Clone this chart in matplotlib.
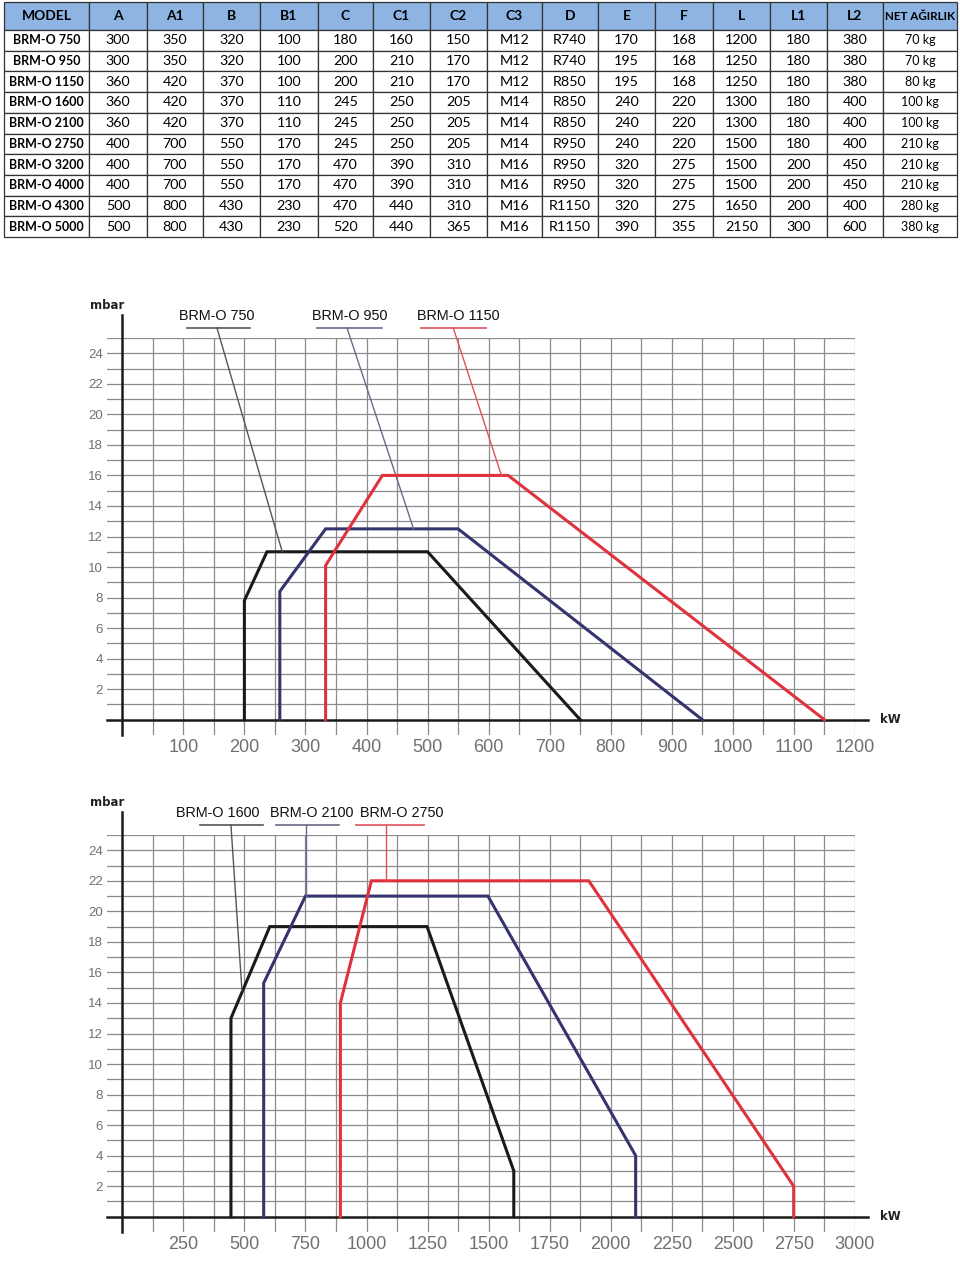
import matplotlib
matplotlib.use("Agg")
import matplotlib.pyplot as plt

# ===== Table data =====
columns = ["MODEL", "A", "A1", "B", "B1", "C", "C1", "C2", "C3", "D", "E", "F", "L", "L1", "L2", "NET AĞIRLIK"]
models = ["BRM-O 750", "BRM-O 950", "BRM-O 1150", "BRM-O 1600", "BRM-O 2100",
          "BRM-O 2750", "BRM-O 3200", "BRM-O 4000", "BRM-O 4300", "BRM-O 5000"]
dim_a = [300, 300, 360, 360, 360, 400, 400, 400, 500, 500]
dim_a1 = [350, 350, 420, 420, 420, 700, 700, 700, 800, 800]
dim_b = [320, 320, 370, 370, 370, 550, 550, 550, 430, 430]
dim_b1 = [100, 100, 100, 110, 110, 170, 170, 170, 230, 230]
dim_c = [180, 200, 200, 245, 245, 245, 470, 470, 470, 520]
dim_c1 = [160, 210, 210, 250, 250, 250, 390, 390, 440, 440]
dim_c2 = [150, 170, 170, 205, 205, 205, 310, 310, 310, 365]
dim_c3 = ["M12", "M12", "M12", "M14", "M14", "M14", "M16", "M16", "M16", "M16"]
dim_d = ["R740", "R740", "R850", "R850", "R850", "R950", "R950", "R950", "R1150", "R1150"]
dim_e = [170, 195, 195, 240, 240, 240, 320, 320, 320, 390]
dim_f = [168, 168, 168, 220, 220, 220, 275, 275, 275, 355]
dim_l = [1200, 1250, 1250, 1300, 1300, 1500, 1500, 1500, 1650, 2150]
dim_l1 = [180, 180, 180, 180, 180, 180, 200, 200, 200, 300]
dim_l2 = [380, 380, 380, 400, 400, 400, 450, 450, 400, 600]
weight_kg = [70, 70, 80, 100, 100, 210, 210, 210, 280, 380]

# ===== Burner working ranges (kW vs mbar) =====
kw_750 = [200, 200, 237, 500, 750]
mbar_750 = [0, 7.8, 11, 11, 0]
kw_950 = [258, 258, 333, 550, 950]
mbar_950 = [0, 8.4, 12.5, 12.5, 0]
kw_1150 = [333, 333, 347, 426, 632, 1150]
mbar_1150 = [0, 10.1, 11, 16, 16, 0]

kw_1600 = [445, 445, 604, 1248, 1603, 1603]
mbar_1600 = [0, 13, 19, 19, 3, 0]
kw_2100 = [579, 579, 750, 1497, 2102, 2102]
mbar_2100 = [0, 15.3, 21, 21, 4, 0]
kw_2750 = [893, 893, 1020, 1910, 2749, 2749]
mbar_2750 = [0, 14, 22, 22, 2, 0]

fig = plt.figure(figsize=(9.6, 12.61), dpi=100)
W, H = 960, 1261


def px_axes(left, top, right, bottom):
    return fig.add_axes([left / W, 1 - bottom / H, (right - left) / W, (bottom - top) / H])


# ===== Table =====
tax = px_axes(4, 2, 957, 237)
tax.axis("off")
rows = []
for i in range(len(models)):
    rows.append([models[i], dim_a[i], dim_a1[i], dim_b[i], dim_b1[i], dim_c[i], dim_c1[i],
                 dim_c2[i], dim_c3[i], dim_d[i], dim_e[i], dim_f[i], dim_l[i], dim_l1[i],
                 dim_l2[i], f"{weight_kg[i]} kg"])
rows = [[str(v) for v in r] for r in rows]
bounds = [4, 89, 147, 203, 260, 318, 373, 430, 487, 542, 598, 655, 713, 770, 827, 883, 957]
col_w = [(bounds[i + 1] - bounds[i]) / (bounds[-1] - bounds[0]) for i in range(len(bounds) - 1)]
table = tax.table(cellText=rows, colLabels=columns, colWidths=col_w, cellLoc="center",
                  bbox=[0, 0, 1, 1])
table.auto_set_font_size(False)
for (r, c), cell in table.get_celld().items():
    cell.set_edgecolor("#333333")
    cell.set_linewidth(0.9)
    cell.set_height(28 if r == 0 else 20.7)
    txt = cell.get_text()
    txt.set_fontfamily("Lato")
    txt.set_fontsize(10.3)
    if r == 0:
        cell.set_facecolor("#8EB4E3")
        txt.set_fontweight("bold")
        txt.set_fontsize(10)
        if c == len(columns) - 1:
            txt.set_fontsize(8.4)
    elif c == 0:
        txt.set_fontweight("bold")
        txt.set_fontsize(9.0)
    elif c == len(columns) - 1:
        txt.set_fontsize(9)


# ===== Charts =====
def draw_chart(ax, xmax, step, curves, colors, labels, label_x, lead_top, lead_end, under):
    ax.set_xlim(-xmax * 25 / 1200, xmax)
    ax.set_ylim(-1, 25)
    for s in ax.spines.values():
        s.set_visible(False)
    ax.set_xticks([step * i for i in range(1, 13)])
    ax.set_xticks([step * (i + 0.5) for i in range(0, 12)], minor=True)
    ax.set_yticks(range(2, 25, 2))
    ax.set_yticks(range(1, 26, 2), minor=True)
    ax.grid(True, which="both", color="#8c8c8c", linewidth=0.9)
    ax.tick_params(which="both", length=0)
    ax.tick_params(axis="x", pad=3, labelsize=13, labelcolor="#707070")
    ax.tick_params(axis="y", pad=3, labelsize=9.5, labelcolor="#707070")
    for lab in ax.get_xticklabels() + ax.get_yticklabels():
        lab.set_fontfamily("Liberation Sans")
    # axes lines
    ax.plot([-xmax * 25 / 1200, xmax * 1221 / 1200], [0, 0], color="#1a1a1a", lw=1.8,
            clip_on=False, zorder=3)
    ax.plot([0, 0], [-1, 26.5], color="#1a1a1a", lw=1.8, clip_on=False, zorder=3)
    ax.text(xmax * 1258 / 1200, 0, "kW", ha="center", va="center", fontsize=8.5,
            fontweight="bold", color="#222222")
    ax.text(-xmax * 25 / 1200, 27.1, "mbar", ha="center", va="center", fontsize=8.5,
            fontweight="bold", color="#222222")
    lead_colors = ["#555555", "#6a6a86", "#e0505c"]
    for (kw, mb), col, lab, lx, lt, le, un, lc in zip(curves, colors, labels, label_x,
                                                      lead_top, lead_end, under, lead_colors):
        ax.plot(kw, mb, color=col, lw=2.2, solid_joinstyle="miter", zorder=4)
        ax.text(lx, 26.45, lab, ha="center", va="center", fontsize=10.4, color="#111111",
                fontfamily="Liberation Sans")
        ax.plot(un, [25.67, 25.67], color=lc, lw=1.2, clip_on=False, zorder=4)
        ax.plot([lt, le[0]], [25.67, le[1]], color=lc, lw=1.0, clip_on=False, zorder=4)


ax1 = px_axes(107, 338, 855, 735)
draw_chart(ax1, 1200, 100,
           [(kw_750, mbar_750), (kw_950, mbar_950), (kw_1150, mbar_1150)],
           ["#1a1a1a", "#34346e", "#e0323c"],
           ["BRM-O 750", "BRM-O 950", "BRM-O 1150"],
           [155, 373, 550],
           [155, 368, 542],
           [(262, 11), (477, 12.5), (621, 16)],
           [(106, 210), (319, 426), (489, 595)])

ax2 = px_axes(107, 835, 855, 1232)
draw_chart(ax2, 3000, 250,
           [(kw_1600, mbar_1600), (kw_2100, mbar_2100), (kw_2750, mbar_2750)],
           ["#1a1a1a", "#34346e", "#e0323c"],
           ["BRM-O 1600", "BRM-O 2100", "BRM-O 2750"],
           [390, 774, 1145],
           [445, 754, 1078],
           [(490, 14.8), (754, 21), (1078, 22)],
           [(320, 577), (631, 886), (955, 1235)])

fig.savefig("out.png", dpi=100)
